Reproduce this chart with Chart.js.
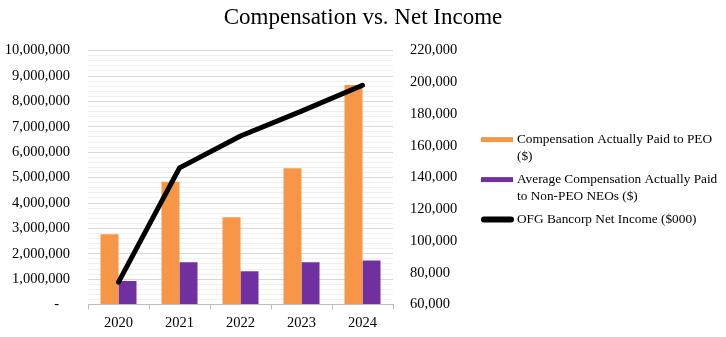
<!DOCTYPE html>
<html>
<head>
<meta charset="utf-8">
<script src="https://cdn.jsdelivr.net/npm/chart.js@4/dist/chart.umd.min.js"></script>
<style>
  html, body { margin: 0; padding: 0; background: #fff; }
  #wrap { width: 726px; height: 337px; }
</style>
</head>
<body>
<div id="wrap"><canvas id="chart"></canvas></div>
<script>
// values
const years = ['2020', '2021', '2022', '2023', '2024']
const peoPay = [2770000, 4840000, 3440000, 5370000, 8650000]
const neoPay = [930000, 1670000, 1310000, 1670000, 1740000]
const netIncome = [74155, 146139, 166197, 181899, 198167]
const legendLines = [
    ['Compensation Actually Paid to PEO', '($)'],
    ['Average Compensation Actually Paid', 'to Non-PEO NEOs ($)'],
    ['OFG Bancorp Net Income ($000)']
]

const orange = '#F79646'
const purple = '#7030A0'
const fontFamily = "'Liberation Serif', 'Times New Roman', serif"

Chart.defaults.font.family = fontFamily
Chart.defaults.color = '#000'

function fmt(v) {
    return Number(v).toLocaleString('en-US')
}

// the built-in legend gets squeezed next to two y axes, so draw it here
const sideLegend = {
    id: 'sideLegend',
    afterDraw(chart) {
        const ctx = chart.ctx
        const area = chart.chartArea
        const lineH = 17
        const gap = 6
        let total = 0
        legendLines.forEach((lines, i) => {
            total += lines.length * lineH + (i > 0 ? gap : 0)
        })
        let y = (area.top + area.bottom) / 2 + 2 - total / 2 + lineH / 2
        const x = chart.width - 245
        ctx.save()
        ctx.font = '13.3px ' + fontFamily
        ctx.textBaseline = 'middle'
        ctx.textAlign = 'left'
        chart.data.datasets.forEach((ds, i) => {
            if (ds.type === 'line') {
                ctx.strokeStyle = ds.borderColor
                ctx.lineWidth = 6
                ctx.lineCap = 'round'
                ctx.beginPath()
                ctx.moveTo(x + 3, y)
                ctx.lineTo(x + 30, y)
                ctx.stroke()
            } else {
                ctx.fillStyle = ds.backgroundColor
                ctx.fillRect(x, y - 2.5, 32, 5)
            }
            ctx.fillStyle = '#000'
            legendLines[i].forEach((t, j) => {
                ctx.fillText(t, x + 36, y + j * lineH)
            })
            y += legendLines[i].length * lineH + gap
        })
        ctx.restore()
    }
}

let canvas = document.getElementById('chart').getContext('2d')
window.chart = new Chart(canvas, {
    type: 'bar',
    data: {
        labels: years,
        datasets: [
            {
                label: 'Compensation Actually Paid to PEO ($)',
                data: peoPay,
                backgroundColor: orange,
                yAxisID: 'y',
                order: 1
            },
            {
                label: 'Average Compensation Actually Paid to Non-PEO NEOs ($)',
                data: neoPay,
                backgroundColor: purple,
                yAxisID: 'y',
                order: 1
            },
            {
                type: 'line',
                label: 'OFG Bancorp Net Income ($000)',
                data: netIncome,
                borderColor: '#000',
                backgroundColor: '#000',
                borderWidth: 5,
                borderCapStyle: 'round',
                borderJoinStyle: 'round',
                pointRadius: 0,
                tension: 0,
                yAxisID: 'y1',
                order: 0
            }
        ]
    },
    plugins: [sideLegend],
    options: {
        responsive: true,
        maintainAspectRatio: false,
        animation: false,
        layout: { padding: { left: 4, right: 4, top: 0, bottom: 0 } },
        datasets: {
            bar: { categoryPercentage: 0.59, barPercentage: 1 }
        },
        plugins: {
            tooltip: { enabled: false },
            legend: { display: false },
            title: {
                display: true,
                text: 'Compensation vs. Net Income',
                font: { size: 23, weight: 'normal' },
                color: '#000',
                padding: { top: 4, bottom: 19 }
            }
        },
        scales: {
            x: {
                grid: {
                    display: true,
                    drawOnChartArea: false,
                    offset: true,
                    tickLength: 5,
                    color: '#bfbfbf'
                },
                border: { display: true, color: '#bfbfbf' },
                ticks: { font: { size: 14.5 }, color: '#000', padding: 5 }
            },
            y: {
                position: 'left',
                min: 0,
                max: 10000000,
                border: { display: false },
                afterFit: function (s) { s.width = 84 },
                grid: {
                    drawTicks: false,
                    color: function (ctx) {
                        return ctx.tick && ctx.tick.value % 1000000 === 0 ? '#d9d9d9' : '#f0f0f0'
                    }
                },
                ticks: {
                    stepSize: 200000,
                    autoSkip: false,
                    padding: 18,
                    font: { size: 14.5 },
                    color: '#000',
                    callback: function (v) {
                        if (v % 1000000 !== 0) return ''
                        if (v === 0) return '-   '
                        return fmt(v)
                    }
                }
            },
            y1: {
                position: 'right',
                min: 60000,
                max: 220000,
                border: { display: false },
                // the right axis box also holds the legend space
                afterFit: function (s) { s.width = 726 - 4 - 393 },
                grid: { display: false, drawTicks: false },
                ticks: {
                    stepSize: 20000,
                    padding: 17,
                    font: { size: 14.5 },
                    color: '#000',
                    callback: function (v) { return fmt(v) }
                }
            }
        }
    }
})
</script>
</body>
</html>
